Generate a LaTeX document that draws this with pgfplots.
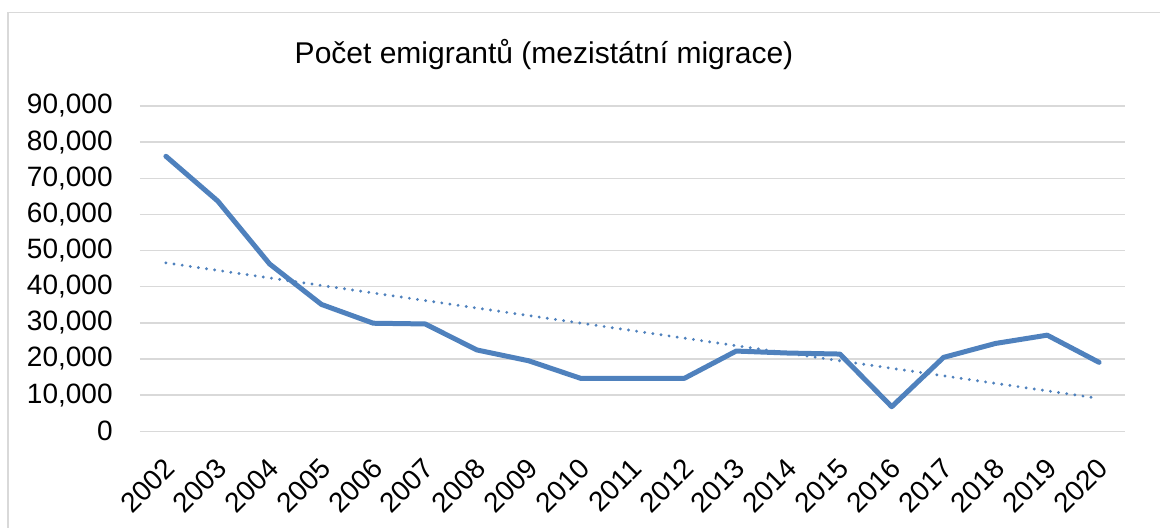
\documentclass[border=0pt]{standalone}
\usepackage{pgfplots}
\pgfplotsset{compat=1.18}
\usepackage{fontspec}
\setmainfont{Liberation Sans}
\definecolor{serie}{RGB}{79,129,189}
\definecolor{gridc}{RGB}{217,217,217}
\begin{document}
\begin{tikzpicture}
\useasboundingbox (0,0) rectangle (580pt,264pt);
\draw[gridc, line width=0.75pt] (4pt,-20pt) -- (4pt,257.85pt) -- (620pt,257.85pt);
\node[anchor=base, inner sep=0pt, font=\fontsize{15}{17}\selectfont] at (272pt,232.35pt) {Počet emigrantů (mezistátní migrace)};
\begin{axis}[
  at={(70pt,48.35pt)}, anchor=south west,
  scale only axis, width=492.5pt, height=162.65pt,
  xmin=-0.5, xmax=18.5, ymin=0, ymax=90000,
  xtick={0,...,18},
  xticklabels={2002,2003,2004,2005,2006,2007,2008,2009,2010,2011,2012,2013,2014,2015,2016,2017,2018,2019,2020},
  ytick={0,10000,...,90000},
  scaled y ticks=false,
  /pgf/number format/.cd, fixed, precision=0, 1000 sep={,}, assume math mode=true,
  /pgfplots/.cd,
  ymajorgrids, grid style={gridc, line width=0.75pt},
  axis line style={draw=none}, tick style={draw=none},
  yticklabel style={font=\fontsize{14}{16}\selectfont, inner sep=0pt, xshift=-13.5pt},
  xticklabel style={font=\fontsize{14}{16}\selectfont, yshift=-12.5pt, xshift=-1.5pt, rotate=45, anchor=north east, inner sep=0pt},
  clip=false,
]
\addplot[serie, line width=2.5pt, line join=round, line cap=round] coordinates {
(0,76100) (1,63700) (2,46300) (3,35100) (4,29900) (5,29700) (6,22500) (7,19500) (8,14650) (9,14650) (10,14650) (11,22200) (12,21650) (13,21370) (14,6800) (15,20450) (16,24300) (17,26600) (18,19070)
};
\addplot[serie, line width=1.6pt, line cap=round, dash pattern=on 0pt off 4.1pt] coordinates {
(0,46600) (18,9100)
};
\end{axis}
\end{tikzpicture}
\end{document}
